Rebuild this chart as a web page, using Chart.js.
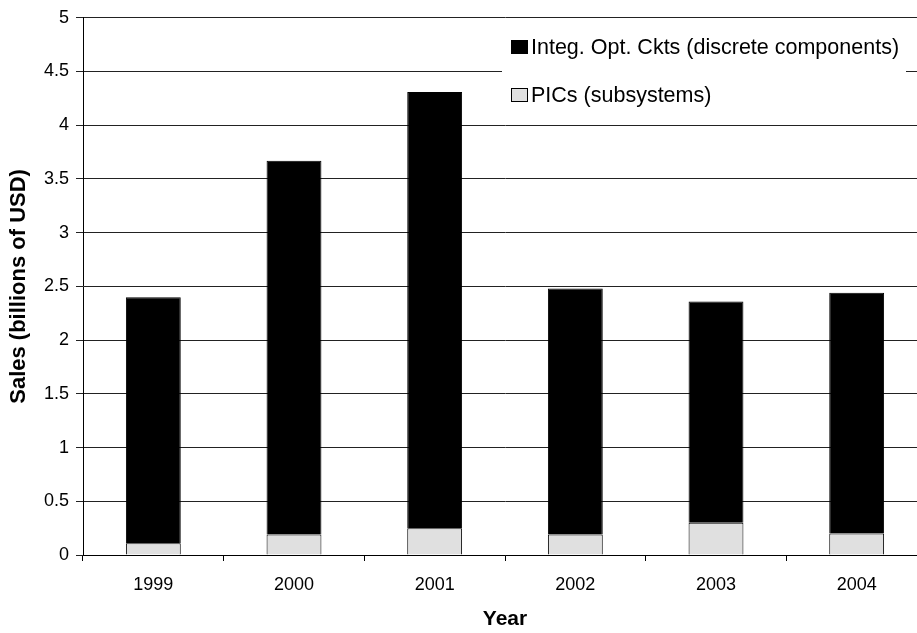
<!DOCTYPE html>
<html lang="en-US">
<head>
	<meta charset="utf-8">
	<title>Sales by Year</title>
	<script src="https://cdn.jsdelivr.net/npm/chart.js@4/dist/chart.umd.min.js"></script>
	<style>
		html, body { margin: 0; padding: 0; background: #fff; overflow: hidden; }
		#chart { display: block; }
	</style>
</head>
<body>
<canvas id="chart" width="935" height="633"></canvas>
<script>
	const years = ['1999', '2000', '2001', '2002', '2003', '2004'];
	const picSales = [0.11, 0.19, 0.25, 0.19, 0.30, 0.20];
	const integSales = [2.29, 3.48, 4.06, 2.29, 2.06, 2.24];
	const yTicks = [0, 0.5, 1, 1.5, 2, 2.5, 3, 3.5, 4, 4.5, 5];

	const FONT = '"Liberation Sans", Arial, sans-serif';

	// legend box floating in the upper right of the plot
	const boxLegend = {
		id: 'boxLegend',
		afterDraw(chart) {
			const ctx = chart.ctx;
			const items = [
				{ text: 'Integ. Opt. Ckts (discrete components)', fill: '#000000' },
				{ text: 'PICs (subsystems)', fill: '#e0e0e0' }
			];
			ctx.save();
			ctx.fillStyle = '#fff';
			ctx.fillRect(502, 26, 404, 90);
			ctx.font = '21.5px ' + FONT;
			ctx.textBaseline = 'middle';
			items.forEach((it, i) => {
				const y = 47 + i * 48;
				ctx.fillStyle = it.fill;
				ctx.fillRect(511.5, y - 6.5, 16, 13);
				ctx.strokeStyle = '#000';
				ctx.lineWidth = 1;
				ctx.strokeRect(511.5, y - 6.5, 16, 13);
				ctx.fillStyle = '#000';
				ctx.fillText(it.text, 531, y + 1);
			});
			ctx.restore();
		}
	};

	const config = {
		type: 'bar',
		data: {
			labels: years,
			datasets: [{
				label: 'PICs (subsystems)',
				data: picSales,
				backgroundColor: '#e0e0e0',
				borderColor: '#000',
				borderWidth: 1,
				barPercentage: 0.39,
				categoryPercentage: 1
			}, {
				label: 'Integ. Opt. Ckts (discrete components)',
				data: integSales,
				backgroundColor: '#000',
				borderColor: '#000',
				borderWidth: 1,
				barPercentage: 0.39,
				categoryPercentage: 1
			}]
		},
		options: {
			responsive: false,
			animation: false,
			layout: { padding: { top: 16, right: 8, left: 0, bottom: 0 } },
			plugins: {
				legend: { display: false },
				tooltip: { enabled: false }
			},
			scales: {
				x: {
					stacked: true,
					grid: {
						offset: true,
						drawOnChartArea: false,
						color: '#000',
						tickLength: 6
					},
					border: { color: '#000', width: 1 },
					ticks: { color: '#000', font: { family: FONT, size: 18 }, padding: 13 },
					title: {
						display: true,
						text: 'Year',
						color: '#000',
						font: { family: FONT, size: 21, weight: 'bold' },
						padding: { top: 0, bottom: 1 }
					},
					afterFit(scale) { scale.height = 78; }
				},
				y: {
					stacked: true,
					min: 0,
					max: 5,
					afterBuildTicks(scale) { scale.ticks = yTicks.map(v => ({ value: v })); },
					grid: { color: '#222', tickLength: 7 },
					border: { color: '#000', width: 1 },
					ticks: {
						color: '#000',
						font: { family: FONT, size: 18 },
						padding: 7,
						callback: v => String(v)
					},
					title: {
						display: true,
						text: 'Sales (billions of USD)',
						color: '#000',
						font: { family: FONT, size: 22, weight: 'bold' },
						padding: { top: 6, bottom: 0 }
					},
					afterFit(scale) { scale.width = 83; }
				}
			}
		},
		plugins: [boxLegend]
	};

	window.myChart = new Chart(document.getElementById('chart').getContext('2d'), config);
</script>
</body>
</html>
